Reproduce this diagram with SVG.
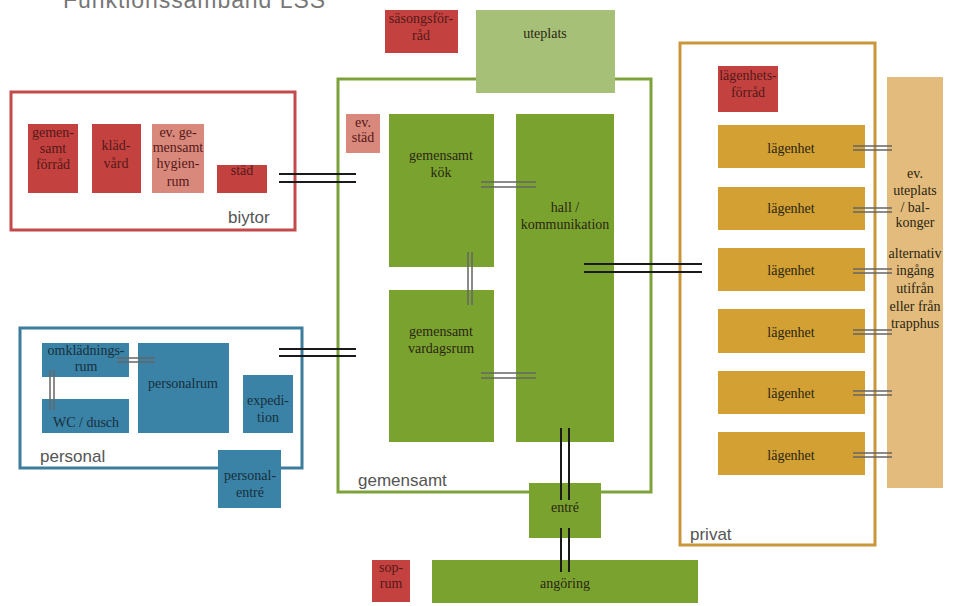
<svg xmlns="http://www.w3.org/2000/svg" width="953" height="606" viewBox="0 0 953 606">
<style>
.t{font-family:"Liberation Serif","DejaVu Serif",serif;font-size:14px;text-anchor:middle;fill:#2a2612}
.tr{font-family:"Liberation Serif","DejaVu Serif",serif;font-size:14px;text-anchor:middle;fill:#561818}
.tb{font-family:"Liberation Serif","DejaVu Serif",serif;font-size:14px;text-anchor:middle;fill:#17303c}
.lab{font-family:"Liberation Sans","Arial",sans-serif;font-size:17px;fill:#555}
.red{fill:#c3423f}
.pink{fill:#d9897c}
.grn{fill:#7aa22f}
.lgrn{fill:#a7c078}
.blu{fill:#3a82a6}
.org{fill:#d3a033}
.strip{fill:#e3bb7c}
.c{stroke:#1a1a1a;stroke-width:2;fill:none}
.cl{stroke:#666;stroke-width:1.5;fill:none}
</style>
<text x="63" y="8" font-family="Liberation Sans, Arial, sans-serif" font-size="23" fill="#777" textLength="262">Funktionssamband LSS</text>

<g id="gemensamt">
<rect x="338" y="79" width="313" height="413" fill="none" stroke="#7ea23a" stroke-width="3"/>
<text class="lab" x="358" y="486">gemensamt</text>
</g>
<g id="biytor">
<rect x="11" y="92" width="284" height="138" fill="none" stroke="#c24a4a" stroke-width="3"/>
<text class="lab" x="228" y="223">biytor</text>
</g>
<g id="personal">
<rect x="20" y="328" width="282" height="140" fill="none" stroke="#3c7c9c" stroke-width="3"/>
<text class="lab" x="40" y="462">personal</text>
</g>
<g id="privat">
<rect x="680" y="43" width="195" height="502" fill="none" stroke="#c9963a" stroke-width="3"/>
<text class="lab" x="690" y="540">privat</text>
</g>

<g id="sasongsforrad"><rect class="red" x="385" y="10" width="73" height="43"/><text class="tr" x="421" y="23">säsongsför-</text><text class="tr" x="421" y="40">råd</text></g>
<g id="uteplats"><rect class="lgrn" x="476" y="10" width="139" height="83"/><text class="t" x="545" y="38">uteplats</text></g>

<g id="gemensamt-forrad"><rect class="red" x="28" y="124" width="50" height="69"/><text class="tr" x="53" y="137">gemen-</text><text class="tr" x="53" y="153">samt</text><text class="tr" x="53" y="169">förråd</text></g>
<g id="kladvard"><rect class="red" x="92" y="124" width="49" height="69"/><text class="tr" x="116" y="150">kläd-</text><text class="tr" x="116" y="168">vård</text></g>
<g id="hygienrum"><rect class="pink" x="152" y="124" width="52" height="69"/><text class="tr" x="178" y="137">ev. ge-</text><text class="tr" x="178" y="152">mensamt</text><text class="tr" x="178" y="168">hygien-</text><text class="tr" x="178" y="186">rum</text></g>
<g id="stad"><rect class="red" x="217" y="165" width="50" height="28"/><text class="tr" x="242" y="175">städ</text></g>

<g id="ev-stad"><rect class="pink" x="346" y="114" width="34" height="39"/><text class="tr" x="363" y="127">ev.</text><text class="tr" x="363" y="142">städ</text></g>
<g id="kok"><rect class="grn" x="389" y="114" width="105" height="153"/><text class="t" x="441" y="160">gemensamt</text><text class="t" x="441" y="177">kök</text></g>
<g id="vardagsrum"><rect class="grn" x="389" y="290" width="105" height="152"/><text class="t" x="441" y="336">gemensamt</text><text class="t" x="441" y="353">vardagsrum</text></g>
<g id="hall"><rect class="grn" x="516" y="114" width="98" height="328"/><text class="t" x="565" y="212">hall /</text><text class="t" x="565" y="229">kommunikation</text></g>
<g id="entre"><rect class="grn" x="529" y="483" width="72" height="55"/><text class="t" x="565" y="512">entré</text></g>
<g id="angoring"><rect class="grn" x="432" y="560" width="266" height="43"/><text class="t" x="565" y="588">angöring</text></g>
<g id="soprum"><rect class="red" x="372" y="560" width="38" height="42"/><text class="tr" x="391" y="572">sop-</text><text class="tr" x="391" y="588">rum</text></g>

<g id="omkladningsrum"><rect class="blu" x="42" y="343" width="87" height="34"/><text class="tb" x="86" y="355">omklädnings-</text><text class="tb" x="86" y="371">rum</text></g>
<g id="wc"><rect class="blu" x="42" y="399" width="87" height="34"/><text class="tb" x="86" y="427">WC / dusch</text></g>
<g id="personalrum"><rect class="blu" x="138" y="343" width="91" height="90"/><text class="tb" x="183" y="388">personalrum</text></g>
<g id="expedition"><rect class="blu" x="243" y="375" width="50" height="58"/><text class="tb" x="268" y="405">expedi-</text><text class="tb" x="268" y="422">tion</text></g>
<g id="personalentre"><rect class="blu" x="218" y="450" width="63" height="58"/><text class="tb" x="250" y="480">personal-</text><text class="tb" x="250" y="497">entré</text></g>

<g id="lagenhetsforrad"><rect class="red" x="718" y="66" width="60" height="46"/><text class="tr" x="748" y="80">lägenhets-</text><text class="tr" x="748" y="97">förråd</text></g>
<g id="lag1"><rect class="org" x="718" y="125" width="147" height="43"/><text class="t" x="791" y="153">lägenhet</text></g>
<g id="lag2"><rect class="org" x="718" y="187" width="147" height="43"/><text class="t" x="791" y="213">lägenhet</text></g>
<g id="lag3"><rect class="org" x="718" y="248" width="147" height="43"/><text class="t" x="791" y="275">lägenhet</text></g>
<g id="lag4"><rect class="org" x="718" y="309" width="147" height="44"/><text class="t" x="791" y="337">lägenhet</text></g>
<g id="lag5"><rect class="org" x="718" y="371" width="147" height="43"/><text class="t" x="791" y="398">lägenhet</text></g>
<g id="lag6"><rect class="org" x="718" y="432" width="147" height="43"/><text class="t" x="791" y="460">lägenhet</text></g>
<g id="uteplats-strip"><rect class="strip" x="887" y="77" width="56" height="411"/>
<text class="t" x="915" y="178">ev.</text><text class="t" x="915" y="195">uteplats</text><text class="t" x="915" y="212">/ bal-</text><text class="t" x="915" y="227">konger</text>
<text class="t" x="915" y="258">alternativ</text><text class="t" x="915" y="275">ingång</text><text class="t" x="915" y="293">utifrån</text><text class="t" x="915" y="311">eller från</text><text class="t" x="915" y="328">trapphus</text></g>

<g id="connectors">
<path class="c" d="M279 174H356M279 182H356"/>
<path class="c" d="M279 349H356M279 356H356"/>
<path class="c" d="M584 264H702M584 272H702"/>
<path class="c" d="M561 428V500M569 428V500"/>
<path class="c" d="M561 528V572M569 528V572"/>
<path class="cl" d="M481 182H536M481 187H536"/>
<path class="cl" d="M481 373H536M481 378H536"/>
<path class="cl" d="M468 252V305M472 252V305"/>
<path class="cl" d="M117 358H155M117 362H155"/>
<path class="cl" d="M50 370V410M54 370V410"/>
<path class="cl" d="M853 146H892M853 150H892"/>
<path class="cl" d="M853 208H892M853 212H892"/>
<path class="cl" d="M853 269H892M853 273H892"/>
<path class="cl" d="M853 330H892M853 334H892"/>
<path class="cl" d="M853 391H892M853 395H892"/>
<path class="cl" d="M853 453H892M853 457H892"/>
</g>
</svg>
